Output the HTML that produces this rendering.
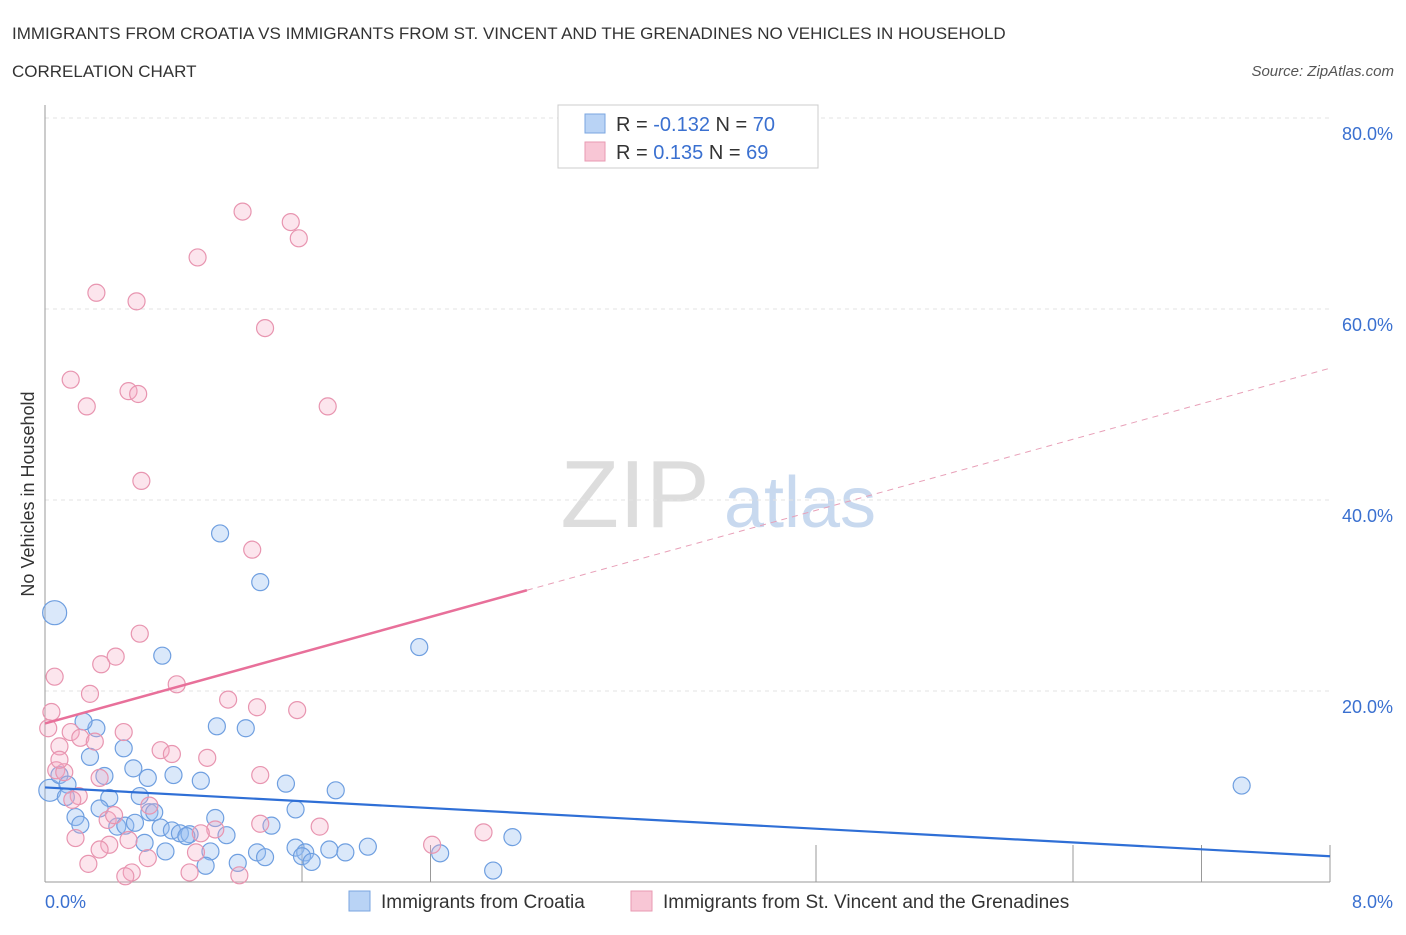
<!DOCTYPE html>
<html><head><meta charset="utf-8"><style>
body{margin:0;background:#fff;font-family:"Liberation Sans",sans-serif;}
svg text{font-family:"Liberation Sans",sans-serif;}
</style></head><body>
<svg id="chart" width="1406" height="930" xmlns="http://www.w3.org/2000/svg">
<text x="12" y="39" font-size="17" fill="#333">IMMIGRANTS FROM CROATIA VS IMMIGRANTS FROM ST. VINCENT AND THE GRENADINES NO VEHICLES IN HOUSEHOLD</text>
<text x="12" y="77" font-size="17" fill="#333">CORRELATION CHART</text>
<text x="1394" y="76" font-size="15" font-style="italic" fill="#555" text-anchor="end">Source: ZipAtlas.com</text>
<g>
<text x="635" y="527" font-size="96" font-family="Liberation Serif" fill="#ddd" text-anchor="middle">ZIP</text>
<text x="800" y="527" font-size="72" fill="#c8d9ef" text-anchor="middle">atlas</text>
</g>
<g id="grid"></g>
<g id="axes"></g>
<g id="marks"></g>
<text transform="translate(34,494) rotate(-90)" font-size="18" fill="#333" text-anchor="middle">No Vehicles in Household</text>
<text x="45" y="908" font-size="18" fill="#3a70d0">0.0%</text>
<text x="1393" y="908" font-size="18" fill="#3a70d0" text-anchor="end">8.0%</text>
<g>
<rect x="558" y="105" width="260" height="63" fill="#fff" stroke="#ccc"/>
<rect x="585" y="114" width="20" height="19" fill="#b9d3f5" stroke="#7aa6e0"/>
<rect x="585" y="142" width="20" height="19" fill="#f8c6d5" stroke="#e89ab2"/>
<text x="616" y="131" font-size="20" fill="#333">R = <tspan fill="#3a70d0">-0.132</tspan>   N = <tspan fill="#3a70d0">70</tspan></text>
<text x="616" y="159" font-size="20" fill="#333">R =  <tspan fill="#3a70d0"> 0.135</tspan>   N = <tspan fill="#3a70d0">69</tspan></text>
</g>
<g>
<rect x="349" y="891" width="21" height="20" fill="#b9d3f5" stroke="#7aa6e0"/>
<text x="381" y="908" font-size="19" fill="#333">Immigrants from Croatia</text>
<rect x="631" y="891" width="21" height="20" fill="#f8c6d5" stroke="#e89ab2"/>
<text x="663" y="908" font-size="19" fill="#333">Immigrants from St. Vincent and the Grenadines</text>
</g>
</svg>
<script>
const yTicks=[20,40,60,80];
const yTickLabels=["20.0%","40.0%","60.0%","80.0%"];
const xTicks=[1.6,2.4,4.8,6.4,7.2,8];
const croatiaX=[0.06,0.03,1.09,1.34,2.33,0.73,7.45,0.32,0.24,1.07,1.25,0.49,0.28,0.55,0.37,0.80,0.64,0.97,1.50,1.81,0.09,0.14,0.13,0.40,0.59,0.34,1.56,0.65,0.68,0.19,0.22,0.45,0.50,0.56,0.72,0.79,0.84,0.90,1.06,1.13,1.41,0.88,0.75,1.03,1.56,1.62,1.60,1.77,1.87,2.01,2.91,2.46,1.32,1.37,1.20,1.00,1.66,2.79,0.62];
const croatiaY=[28.2,9.6,36.5,31.4,24.6,23.7,10.1,16.1,16.8,16.3,16.1,14.0,13.1,11.9,11.1,11.2,10.9,10.6,10.3,9.6,11.2,10.2,8.9,8.8,9.0,7.7,7.6,7.3,7.3,6.8,6.0,5.8,5.9,6.2,5.7,5.4,5.1,5.0,6.7,4.9,5.9,4.8,3.2,3.2,3.6,3.1,2.7,3.4,3.1,3.7,4.7,3.0,3.1,2.6,2.0,1.7,2.1,1.2,4.1];
const vincentX=[1.23,1.53,1.58,0.95,0.32,0.57,1.37,0.16,0.52,0.58,0.26,1.76,0.60,1.29,0.59,0.44,0.35,0.06,0.82,0.28,1.14,1.32,1.57,0.04,0.49,0.16,0.02,0.22,0.09,0.31,0.72,0.79,1.01,0.07,0.12,0.34,1.34,0.21,0.65,0.17,0.39,0.43,1.71,2.73,1.34,1.06,0.97,0.19,0.52,0.40,0.34,0.64,0.94,2.41,0.27,0.54,0.90,1.21,0.50,0.09];
const vincentY=[70.2,69.1,67.4,65.4,61.7,60.8,58.0,52.6,51.4,51.1,49.8,49.8,42.0,34.8,26.0,23.6,22.8,21.5,20.7,19.7,19.1,18.3,18.0,17.8,15.7,15.7,16.1,15.1,14.2,14.7,13.8,13.4,13.0,11.7,11.5,10.9,11.2,9.0,8.0,8.6,6.5,7.0,5.8,5.2,6.1,5.5,5.1,4.6,4.4,3.9,3.4,2.5,3.1,3.9,1.9,1.0,1.0,0.7,0.6,12.8];
const croatiaTrend=[9.9,2.7];
const vincentTrend=[16.6,53.8];
const vincentSolidEnd=3.0;
const NS="http://www.w3.org/2000/svg";
const X=v=>45+v/8*1285;
const Y=v=>882-v/20*191;
function mk(tag,attrs,parent){const e=document.createElementNS(NS,tag);for(const k in attrs)e.setAttribute(k,attrs[k]);parent.appendChild(e);return e;}
const grid=document.getElementById('grid'),axes=document.getElementById('axes'),marks=document.getElementById('marks');
yTicks.forEach((t,i)=>{
 const l=mk('line',{x1:45,x2:1330,y1:Y(t),y2:Y(t),stroke:'#e3e3e3','stroke-dasharray':'4,4'},grid);
 
 
 const tx=mk('text',{x:1393,y:Y(t)+22,'font-size':18,fill:'#3a70d0','text-anchor':'end'},grid);
 tx.textContent=yTickLabels[i];
 
 
});
const ax=mk('line',{x1:45,x2:45,y1:105,y2:882,stroke:'#999'},axes);


const bx=mk('line',{x1:45,x2:1330,y1:882,y2:882,stroke:'#999'},axes);


xTicks.forEach(t=>{
 const l=mk('line',{x1:X(t),x2:X(t),y1:845,y2:882,stroke:'#999'},axes);
 
 
});
[[croatiaX,croatiaY,'rgba(150,190,240,0.35)','#6f9fe0','croatia-point'],[vincentX,vincentY,'rgba(245,170,195,0.3)','#e895b0','vincent-point']].forEach(([xs,ys,f,s,n])=>{
 xs.forEach((x,i)=>{
  const r=(i===0&&n==='croatia-point')?12:(i===1&&n==='croatia-point')?11:8.5;
  const c=mk('circle',{cx:X(x),cy:Y(ys[i]),r:r,fill:f,stroke:s,'stroke-width':1.2},marks);
  
  
 });
});
const bl=mk('line',{x1:X(0),y1:Y(croatiaTrend[0]),x2:X(8),y2:Y(croatiaTrend[1]),stroke:'#2f6fd6','stroke-width':2.2},marks);


const vy=x=>vincentTrend[0]+(vincentTrend[1]-vincentTrend[0])*x/8;
const pl=mk('line',{x1:X(0),y1:Y(vy(0)),x2:X(vincentSolidEnd),y2:Y(vy(vincentSolidEnd)),stroke:'#e8709a','stroke-width':2.5},marks);


const pd=mk('line',{x1:X(vincentSolidEnd),y1:Y(vy(vincentSolidEnd)),x2:X(8),y2:Y(vy(8)),stroke:'#e8a0b8','stroke-width':1,'stroke-dasharray':'6,5'},marks);


</script>
</body></html>
